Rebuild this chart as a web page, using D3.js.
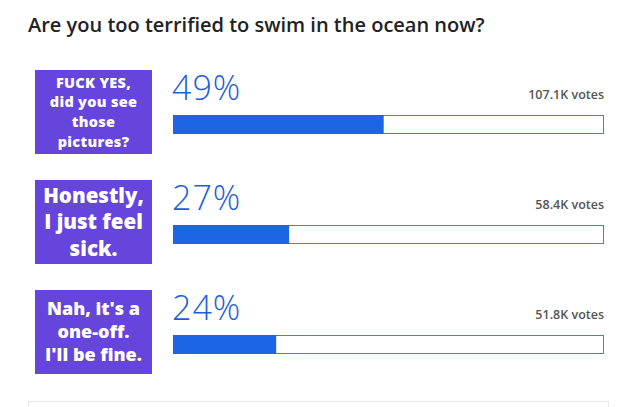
<!DOCTYPE html>
<html>
<head>
<meta charset="utf-8">
<script src="https://cdn.jsdelivr.net/npm/d3@7"></script>
<style>
  body { margin: 0; background: #fff; }
  svg { display: block; }
</style>
</head>
<body>
<div id="chart"></div>
<script>
// poll data
const question = "Are you too terrified to swim in the ocean now?";
const answers = [
  ["FUCK YES,", "did you see", "those", "pictures?"],
  ["Honestly,", "I just feel", "sick."],
  ["Nah, it's a", "one-off.", "I'll be fine."]
];
const percents = [49, 27, 24];
const votes = ["107.1K votes", "58.4K votes", "51.8K votes"];

const width = 640, height = 407;
const rowTop = 70, rowStep = 110;
const labelSize = [14.5, 20.5, 18];
const labelLead = [19.8, 26.5, 23];

const svg = d3.select("#chart").append("svg")
  .attr("width", width)
  .attr("height", height);

svg.append("text")
  .attr("x", 28)
  .attr("y", 32)
  .attr("fill", "#222")
  .style("font-family", "'Open Sans', sans-serif")
  .style("font-size", "20px")
  .style("font-weight", 600)
  .text(question);

const x = d3.scaleLinear().domain([0, 100]).range([173, 603]);

const row = svg.selectAll(".row")
  .data(percents)
  .enter().append("g")
  .attr("class", "row")
  .attr("transform", (d, i) => "translate(0," + (rowTop + i * rowStep) + ")");

// purple answer tiles
row.append("rect")
  .attr("x", 35)
  .attr("y", 0)
  .attr("width", 117)
  .attr("height", 84)
  .attr("fill", "#6645dd");

row.each(function(d, i){
  const lines = answers[i];
  const lead = labelLead[i];
  const first = 42 - (lines.length - 1) * lead / 2 + labelSize[i] * 0.36;
  d3.select(this).append("text")
    .attr("text-anchor", "middle")
    .attr("fill", "#fff")
    .style("font-family", "'Open Sans', sans-serif")
    .style("font-weight", 800)
    .style("font-size", labelSize[i] + "px")
    .style("letter-spacing", i == 0 ? "0.3px" : "0px")
    .selectAll("tspan")
    .data(lines)
    .enter().append("tspan")
    .attr("x", 93.5)
    .attr("y", (l, j) => first + j * lead)
    .text(l => l);
});

row.append("text")
  .attr("x", 172)
  .attr("y", 30)
  .attr("fill", "#1f5fd6")
  .style("font-family", "'Open Sans', sans-serif")
  .style("font-weight", 300)
  .style("font-size", "34px")
  .style("letter-spacing", "1px")
  .text(d => d + "%");

row.append("text")
  .attr("x", 604)
  .attr("y", 28.5)
  .attr("text-anchor", "end")
  .attr("fill", "#555")
  .style("font-family", "'Open Sans', sans-serif")
  .style("font-weight", 600)
  .style("font-size", "12.5px")
  .text((d, i) => votes[i]);

row.append("rect")
  .attr("x", x(0) + 0.5)
  .attr("y", 45.5)
  .attr("width", x(100) - x(0))
  .attr("height", 18)
  .attr("fill", "#fff")
  .attr("stroke", "#5f7e9e")
  .attr("stroke-width", 1);

row.append("rect")
  .attr("x", x(0))
  .attr("y", 45)
  .attr("width", d => x(d) - x(0))
  .attr("height", 19)
  .attr("fill", "#1c66e6");

// next card edge
svg.append("rect")
  .attr("x", 28.5)
  .attr("y", 401.5)
  .attr("width", 580)
  .attr("height", 20)
  .attr("fill", "none")
  .attr("stroke", "#e6e6e6");
</script>
</body>
</html>
